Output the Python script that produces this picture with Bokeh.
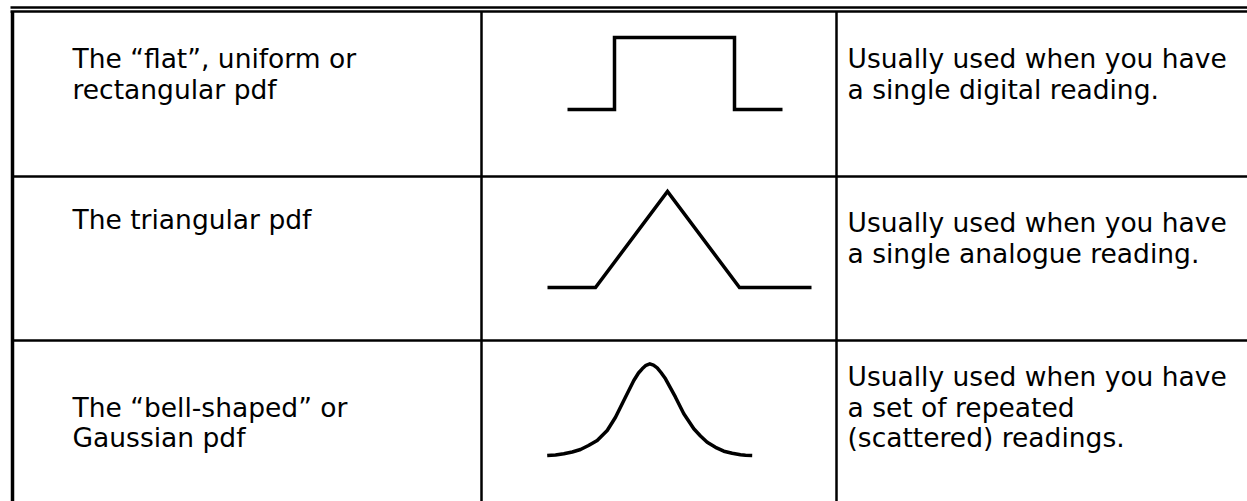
from bokeh.plotting import figure
from bokeh.models import Range1d
from bokeh.core.properties import value
from bokeh.embed import file_html
from bokeh.resources import INLINE

# ---------------- data ----------------
row_labels = [
    ["The \u201cflat\u201d, uniform or", "rectangular pdf"],
    ["The triangular pdf"],
    ["The \u201cbell-shaped\u201d  or", "Gaussian pdf"],
]
descriptions = [
    ["Usually used when you have", "a single digital reading."],
    ["Usually used when you have", "a single analogue reading."],
    ["Usually used when you have", "a set of repeated", "(scattered) readings."],
]

# shape outlines (in picture pixels)
rect_x = [567, 614, 614, 734, 734, 782]
rect_y = [109, 109, 37, 37, 109, 109]

tri_x = [547, 595, 667, 739, 811]
tri_y = [287, 287, 191, 287, 287]

bell_x = [546.7, 555.0, 563.3, 571.7, 580.0, 588.0, 596.7, 606.7, 615.0, 623.3, 633.3, 638.0,
          641.7, 645.5, 649.3, 653.0, 656.7, 660.5, 665.0, 675.0, 683.3, 693.3, 700.0, 706.7,
          715.0, 723.3, 731.7, 740.0, 745.0, 751.7]
bell_y = [455.0, 454.5, 453.3, 451.5, 449.0, 445.0, 440.0, 430.0, 416.7, 400.0, 380.0, 372.5,
          368.3, 364.8, 363.3, 364.6, 367.3, 372.0, 378.3, 396.7, 413.3, 428.3, 435.5, 441.7,
          446.8, 450.7, 452.8, 454.3, 454.8, 455.0]

# ---------------- layout ----------------
W, H = 1247, 501
left_text_x = 72
right_text_x = 847
left_text_y = [[58, 89], [219], [407, 437]]
right_text_y = [[58, 89], [222, 253], [376, 407, 437]]

p = figure(width=W, height=H, x_range=Range1d(0, W), y_range=Range1d(H, 0),
           output_backend="svg", toolbar_location=None, min_border=0)
p.xaxis.visible = False
p.yaxis.visible = False
p.grid.visible = False
p.outline_line_color = None
p.background_fill_color = "white"
p.border_fill_color = "white"

# table rules
p.segment(x0=[10, 10], y0=[7, 11], x1=[W, W], y1=[7, 11], line_width=2.5, line_color="black")
p.segment(x0=[12], y0=[11], x1=[12], y1=[H], line_width=3.5, line_color="black")
p.segment(x0=[481, 836], y0=[11, 11], x1=[481, 836], y1=[H, H], line_width=2.5, line_color="black")
p.segment(x0=[12, 12], y0=[176, 340], x1=[W, W], y1=[176, 340], line_width=2.5, line_color="black")

# shapes
p.line(rect_x, rect_y, line_width=3.5, line_color="black", line_join="miter")
p.line(tri_x, tri_y, line_width=3.5, line_color="black", line_join="miter")
p.line(bell_x, bell_y, line_width=3.5, line_color="black", line_join="round")

# texts
tx, ty, tt = [], [], []
for lines, ys in zip(row_labels, left_text_y):
    for s, y in zip(lines, ys):
        tx.append(left_text_x); ty.append(y); tt.append(s)
for lines, ys in zip(descriptions, right_text_y):
    for s, y in zip(lines, ys):
        tx.append(right_text_x); ty.append(y); tt.append(s)

p.text(x=tx, y=ty, text=tt, text_font=value("DejaVu Sans"), text_font_size="26.5px",
       text_baseline="middle", text_align="left", text_color="black")

open("out.html", "w").write(file_html(p, INLINE))
